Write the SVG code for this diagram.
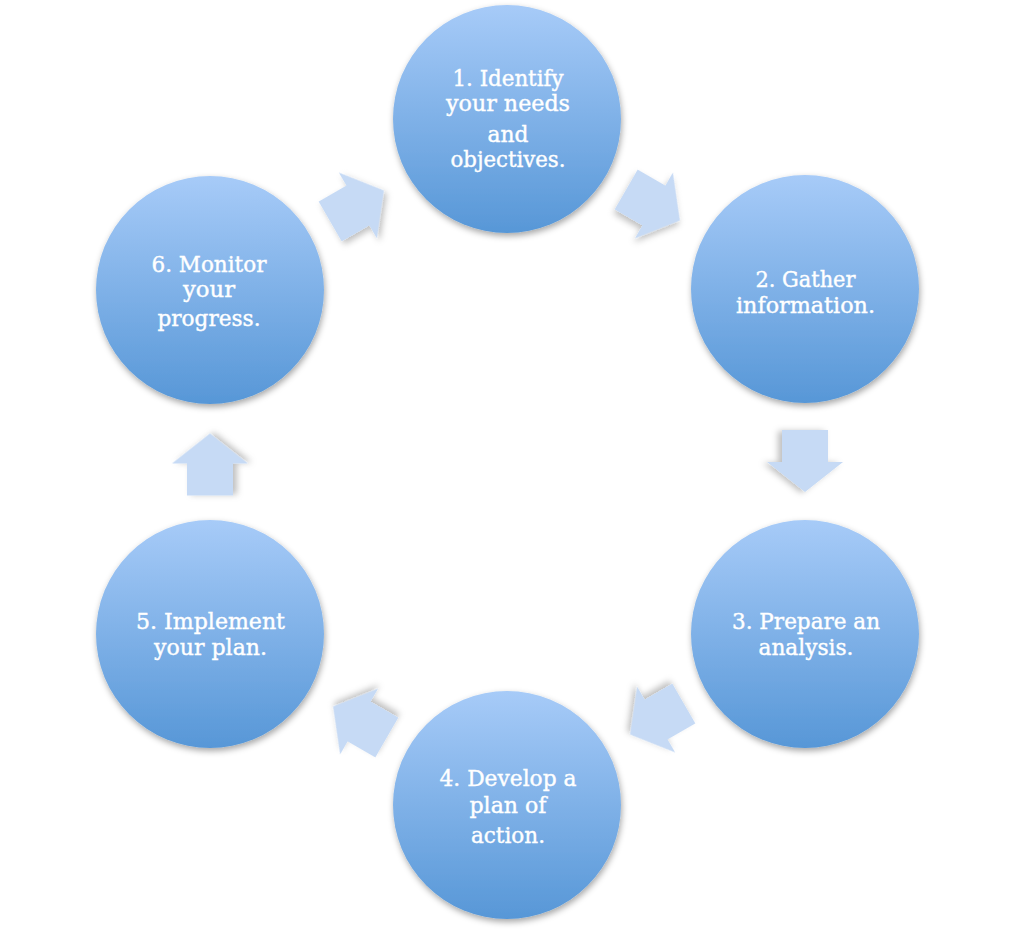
<svg xmlns="http://www.w3.org/2000/svg" width="1024" height="946" viewBox="0 0 1024 946">
<defs>
<linearGradient id="cg" x1="0" y1="0" x2="0" y2="1">
<stop offset="0" stop-color="#a7cbf8"/>
<stop offset="1" stop-color="#5797d7"/>
</linearGradient>
<filter id="cs" x="-20%" y="-20%" width="140%" height="140%">
<feDropShadow dx="1" dy="3" stdDeviation="3" flood-color="#000" flood-opacity="0.35"/>
</filter>
<filter id="as" x="-30%" y="-30%" width="160%" height="160%">
<feDropShadow dx="1" dy="4" stdDeviation="3" flood-color="#000" flood-opacity="0.25"/>
</filter>
<path id="arr" d="M-31,-23 L1,-23 L1,-38 L31,0 L1,38 L1,23 L-31,23 Z"/>
</defs>
<style>
.c{fill:url(#cg);filter:url(#cs)}
.a{fill:#c6daf5;filter:url(#as)}
.t{font-family:"DejaVu Serif","Liberation Serif",serif;font-size:22px;fill:#ffffff;stroke:#ffffff;stroke-width:0.4;text-anchor:middle}
</style>
<rect width="1024" height="946" fill="#ffffff"/>
<g id="connectors">
<use href="#arr" class="a" transform="translate(357,206) rotate(-30)"/>
<use href="#arr" class="a" transform="translate(653,205) rotate(30)"/>
<use href="#arr" class="a" transform="translate(805,461) rotate(90)"/>
<use href="#arr" class="a" transform="translate(657,719) rotate(150)"/>
<use href="#arr" class="a" transform="translate(360,722) rotate(210)"/>
<use href="#arr" class="a" transform="translate(210,464.5) rotate(-90)"/>
</g>
<g id="node1">
<circle class="c" cx="507" cy="119" r="114"/>
<text class="t" x="508" y="86" textLength="111" lengthAdjust="spacingAndGlyphs">1. Identify</text>
<text class="t" x="508" y="111" textLength="124" lengthAdjust="spacingAndGlyphs">your needs</text>
<text class="t" x="508" y="142" textLength="41" lengthAdjust="spacingAndGlyphs">and</text>
<text class="t" x="508" y="167" textLength="115" lengthAdjust="spacingAndGlyphs">objectives.</text>
</g>
<g id="node2">
<circle class="c" cx="805" cy="289" r="114"/>
<text class="t" x="805.5" y="287" textLength="100" lengthAdjust="spacingAndGlyphs">2. Gather</text>
<text class="t" x="805.5" y="313" textLength="139" lengthAdjust="spacingAndGlyphs">information.</text>
</g>
<g id="node3">
<circle class="c" cx="805" cy="634" r="114"/>
<text class="t" x="806" y="629" textLength="148" lengthAdjust="spacingAndGlyphs">3. Prepare an</text>
<text class="t" x="806" y="655" textLength="95" lengthAdjust="spacingAndGlyphs">analysis.</text>
</g>
<g id="node4">
<circle class="c" cx="507" cy="805" r="114"/>
<text class="t" x="508" y="786" textLength="137" lengthAdjust="spacingAndGlyphs">4. Develop a</text>
<text class="t" x="508" y="813" textLength="77" lengthAdjust="spacingAndGlyphs">plan of</text>
<text class="t" x="508" y="843" textLength="74" lengthAdjust="spacingAndGlyphs">action.</text>
</g>
<g id="node5">
<circle class="c" cx="210" cy="634" r="114"/>
<text class="t" x="210.5" y="629" textLength="149" lengthAdjust="spacingAndGlyphs">5. Implement</text>
<text class="t" x="210.5" y="655" textLength="113" lengthAdjust="spacingAndGlyphs">your plan.</text>
</g>
<g id="node6">
<circle class="c" cx="210" cy="290" r="114"/>
<text class="t" x="209" y="272" textLength="115" lengthAdjust="spacingAndGlyphs">6. Monitor</text>
<text class="t" x="209" y="297" textLength="52" lengthAdjust="spacingAndGlyphs">your</text>
<text class="t" x="209" y="326" textLength="103" lengthAdjust="spacingAndGlyphs">progress.</text>
</g>
</svg>
